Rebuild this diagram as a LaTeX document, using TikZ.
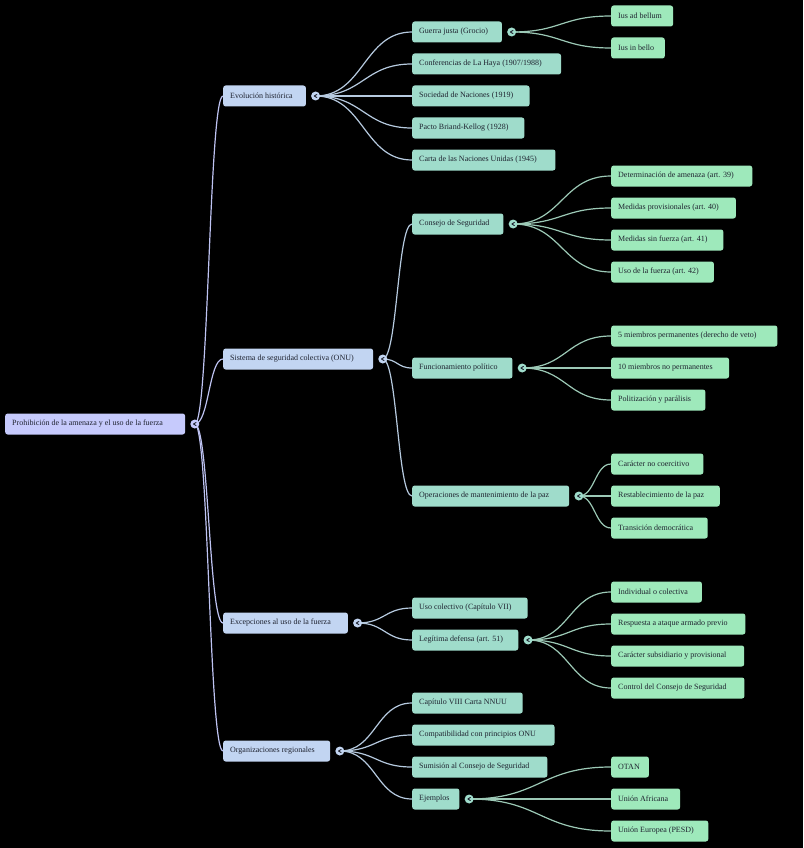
\documentclass[tikz,border=0pt]{standalone}
\usepackage{fontspec}
\setmainfont{Liberation Serif}
\usetikzlibrary{calc}
\pgfdeclarelayer{back}
\pgfdeclarelayer{bg}
\pgfsetlayers{back,bg,main}
\definecolor{croot}{HTML}{C6CAFC}
\definecolor{cone}{HTML}{C2D5F2}
\definecolor{ctwo}{HTML}{9FDCCB}
\definecolor{cthree}{HTML}{9EE9BB}
\definecolor{ctext}{HTML}{1F2330}
\definecolor{eroot}{HTML}{BEC3F2}
\definecolor{eone}{HTML}{B6CADF}
\definecolor{etwo}{HTML}{9CC9B6}
\newcommand\boxtxt[1]{\setbox0=\hbox{#1}\hbox to \dimexpr\wd0*11/10\relax{#1\hfil}}
\newcommand\tog[2]{\node[circle,fill=#2,inner sep=0pt,minimum size=9pt] (#1c) at ($(#1.east)+(9.5,0)$) {};
  \draw[chev] ($(#1c)+(1.3,-1.6)$) -- ($(#1c)+(-1.3,0)$) -- ($(#1c)+(1.3,1.6)$);}
\newcommand\lnk[3]{\draw[#1] let \p1=(#2), \p2=(#3.west) in (\p1) .. controls ({(\x1+\x2)/2},\y1) and ({(\x1+\x2)/2},\y2) .. (\p2);}
\tikzset{
  bx/.style={anchor=west,rounded corners=2.5pt,minimum height=21pt,inner xsep=7pt,inner ysep=0pt,text=ctext,font=\fontsize{8pt}{9.6pt}\selectfont},
  nroot/.style={bx,fill=croot},
  none/.style={bx,fill=cone},
  ntwo/.style={bx,fill=ctwo},
  nthree/.style={bx,fill=cthree},
  chev/.style={draw=ctext,line width=0.9pt,line cap=round,line join=round},
  lroot/.style={draw=eroot,line width=1.2pt},
  lone/.style={draw=eone,line width=1.2pt},
  ltwo/.style={draw=etwo,line width=1.2pt},
}
\begin{document}
\begin{tikzpicture}[x=1pt,y=-1pt]
\begin{pgfonlayer}{back}
\fill[black] (0,0) rectangle (803,848);
\end{pgfonlayer}
\useasboundingbox (0,0) rectangle (803,848);
% root
\node[nroot] (root) at (5,424) {\boxtxt{Prohibición de la amenaza y el uso de la fuerza}};
% level 1
\node[none] (evo) at (223,96) {\boxtxt{Evolución histórica}};
\node[none] (sis) at (223,359) {\boxtxt{Sistema de seguridad colectiva (ONU)}};
\node[none] (exc) at (223,623) {\boxtxt{Excepciones al uso de la fuerza}};
\node[none] (org) at (223,751) {\boxtxt{Organizaciones regionales}};
% evolucion
\node[ntwo] (gj) at (412,32) {\boxtxt{Guerra justa (Grocio)}};
\node[ntwo] (ch) at (412,64) {\boxtxt{Conferencias de La Haya (1907/1988)}};
\node[ntwo] (sn) at (412,96) {\boxtxt{Sociedad de Naciones (1919)}};
\node[ntwo] (pb) at (412,128) {\boxtxt{Pacto Briand-Kellog (1928)}};
\node[ntwo] (cnu) at (412,160) {\boxtxt{Carta de las Naciones Unidas (1945)}};
\node[nthree] (iab) at (611,16) {\boxtxt{Ius ad bellum}};
\node[nthree] (iib) at (611,48) {\boxtxt{Ius in bello}};
% sistema
\node[ntwo] (cs) at (412,224) {\boxtxt{Consejo de Seguridad}};
\node[ntwo] (fp) at (412,368) {\boxtxt{Funcionamiento político}};
\node[ntwo] (omp) at (412,496) {\boxtxt{Operaciones de mantenimiento de la paz}};
\node[nthree] (dam) at (611,176) {\boxtxt{Determinación de amenaza (art. 39)}};
\node[nthree] (mp) at (611,208) {\boxtxt{Medidas provisionales (art. 40)}};
\node[nthree] (msf) at (611,240) {\boxtxt{Medidas sin fuerza (art. 41)}};
\node[nthree] (uf) at (611,272) {\boxtxt{Uso de la fuerza (art. 42)}};
\node[nthree] (mfive) at (611,336) {\boxtxt{5 miembros permanentes (derecho de veto)}};
\node[nthree] (mten) at (611,368) {\boxtxt{10 miembros no permanentes}};
\node[nthree] (pp) at (611,400) {\boxtxt{Politización y parálisis}};
\node[nthree] (cnc) at (611,464) {\boxtxt{Carácter no coercitivo}};
\node[nthree] (rp) at (611,496) {\boxtxt{Restablecimiento de la paz}};
\node[nthree] (td) at (611,528) {\boxtxt{Transición democrática}};
% excepciones
\node[ntwo] (uc) at (412,608) {\boxtxt{Uso colectivo (Capítulo VII)}};
\node[ntwo] (ld) at (412,640) {\boxtxt{Legítima defensa (art. 51)}};
\node[nthree] (ioc) at (611,592) {\boxtxt{Individual o colectiva}};
\node[nthree] (raa) at (611,624) {\boxtxt{Respuesta a ataque armado previo}};
\node[nthree] (csp) at (611,656) {\boxtxt{Carácter subsidiario y provisional}};
\node[nthree] (ccs) at (611,688) {\boxtxt{Control del Consejo de Seguridad}};
% organizaciones
\node[ntwo] (ceight) at (412,703) {\boxtxt{Capítulo VIII Carta NNUU}};
\node[ntwo] (cpo) at (412,735) {\boxtxt{Compatibilidad con principios ONU}};
\node[ntwo] (scs) at (412,767) {\boxtxt{Sumisión al Consejo de Seguridad}};
\node[ntwo] (ej) at (412,799) {\boxtxt{Ejemplos}};
\node[nthree] (otan) at (611,767) {\boxtxt{OTAN}};
\node[nthree] (ua) at (611,799) {\boxtxt{Unión Africana}};
\node[nthree] (ue) at (611,831) {\boxtxt{Unión Europea (PESD)}};
% toggles
\tog{root}{croot}
\tog{evo}{cone}
\tog{sis}{cone}
\tog{exc}{cone}
\tog{org}{cone}
\tog{gj}{ctwo}
\tog{cs}{ctwo}
\tog{fp}{ctwo}
\tog{omp}{ctwo}
\tog{ld}{ctwo}
\tog{ej}{ctwo}
% edges
\begin{pgfonlayer}{bg}
\lnk{lroot}{rootc}{evo}
\lnk{lroot}{rootc}{sis}
\lnk{lroot}{rootc}{exc}
\lnk{lroot}{rootc}{org}
\lnk{lone}{evoc}{gj}
\lnk{lone}{evoc}{ch}
\lnk{lone}{evoc}{sn}
\lnk{lone}{evoc}{pb}
\lnk{lone}{evoc}{cnu}
\lnk{lone}{sisc}{cs}
\lnk{lone}{sisc}{fp}
\lnk{lone}{sisc}{omp}
\lnk{lone}{excc}{uc}
\lnk{lone}{excc}{ld}
\lnk{lone}{orgc}{ceight}
\lnk{lone}{orgc}{cpo}
\lnk{lone}{orgc}{scs}
\lnk{lone}{orgc}{ej}
\lnk{ltwo}{gjc}{iab}
\lnk{ltwo}{gjc}{iib}
\lnk{ltwo}{csc}{dam}
\lnk{ltwo}{csc}{mp}
\lnk{ltwo}{csc}{msf}
\lnk{ltwo}{csc}{uf}
\lnk{ltwo}{fpc}{mfive}
\lnk{ltwo}{fpc}{mten}
\lnk{ltwo}{fpc}{pp}
\lnk{ltwo}{ompc}{cnc}
\lnk{ltwo}{ompc}{rp}
\lnk{ltwo}{ompc}{td}
\lnk{ltwo}{ldc}{ioc}
\lnk{ltwo}{ldc}{raa}
\lnk{ltwo}{ldc}{csp}
\lnk{ltwo}{ldc}{ccs}
\lnk{ltwo}{ejc}{otan}
\lnk{ltwo}{ejc}{ua}
\lnk{ltwo}{ejc}{ue}
\end{pgfonlayer}
\end{tikzpicture}
\end{document}
